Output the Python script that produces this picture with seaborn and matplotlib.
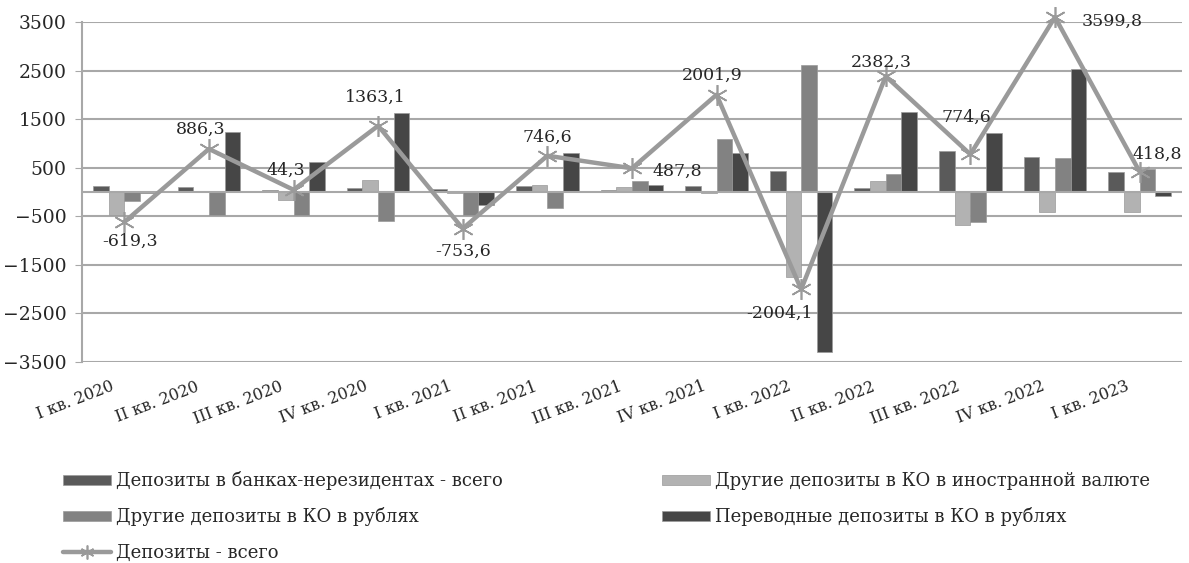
import numpy as np
import pandas as pd
import matplotlib
matplotlib.use("Agg")
import matplotlib.pyplot as plt
import seaborn as sns
from matplotlib.lines import Line2D
import matplotlib.transforms as mtransforms

quarters = ["I кв. 2020", "II кв. 2020", "III кв. 2020", "IV кв. 2020",
            "I кв. 2021", "II кв. 2021", "III кв. 2021", "IV кв. 2021",
            "I кв. 2022", "II кв. 2022", "III кв. 2022", "IV кв. 2022",
            "I кв. 2023"]

nonres = [120, 100, 50, 90, 70, 125, 50, 120, 430, 90, 840, 730, 410]
foreign = [-475, 0, -170, 240, -30, 140, 105, -30, -1750, 230, -680, -405, -405]
rub_other = [-190, -475, -475, -600, -475, -325, 230, 1090, 2620, 365, -610, 700, 480]
rub_transfer = [-20, 1230, 620, 1620, -270, 800, 150, 800, -3300, 1640, 1210, 2540, -75]
total = [-619.3, 886.3, 44.3, 1363.1, -753.6, 746.6, 487.8, 2001.9,
         -2004.1, 2382.3, 774.6, 3599.8, 418.8]

series = ["Депозиты в банках-нерезидентах - всего",
          "Другие депозиты в КО в иностранной валюте",
          "Другие депозиты в КО в рублях",
          "Переводные депозиты в КО в рублях"]
line_name = "Депозиты - всего"
colors = ["#5a5a5a", "#b2b2b2", "#828282", "#464646"]
line_color = "#9a9a9a"

df = pd.DataFrame({
    "quarter": quarters * 4,
    "series": np.repeat(series, len(quarters)),
    "value": nonres + foreign + rub_other + rub_transfer,
})

sns.set_style("white")
plt.rcParams["font.family"] = ["DejaVu Serif"]

fig = plt.figure(figsize=(11.89, 5.63), dpi=100)
ax = fig.add_axes([0.069, 0.357, 0.925, 0.604])

sns.barplot(data=df, x="quarter", y="value", hue="series", hue_order=series,
            palette=colors, width=0.74, saturation=1, ax=ax, legend=False,
            edgecolor="#9a9a9a", linewidth=0.5)

xs = np.arange(len(quarters))
ax.plot(xs, total, color=line_color, lw=3.2, marker=(6, 2, 0), ms=15,
        mew=1.2, mec=line_color, zorder=5, clip_on=False)

# label offsets in pixels (dx right, dy up)
offsets = [(6, -19), (-8, 20), (-8, 20), (-3, 28), (0, -23), (0, 18),
           (45, -3), (-4, 19), (-22, -24), (-4, 14), (-4, 37), (57, -4),
           (18, 17)]
for x, y, (dx, dy) in zip(xs, total, offsets):
    ax.annotate(f"{y:.1f}".replace(".", ","), (x, y),
                xytext=(dx * 0.72, dy * 0.72),
                textcoords="offset points", ha="center", va="center",
                fontsize=12.5, zorder=6, annotation_clip=False)

ax.set_ylim(-3500, 3500)
ax.set_yticks(np.arange(-3500, 3501, 1000))
ax.set_xlim(-0.5, len(quarters) - 0.5)
ax.yaxis.grid(True, color="#a8a8a8", lw=1.5)
ax.axhline(0, color="#a8a8a8", lw=1.5, zorder=1)
ax.set_axisbelow(True)
for s in ["top", "right", "bottom"]:
    ax.spines[s].set_visible(False)
ax.spines["left"].set_color("#a8a8a8")
ax.spines["left"].set_linewidth(1.5)
ax.tick_params(axis="y", left=True, length=5, color="#a8a8a8",
               labelsize=13.5, pad=6)
ax.tick_params(axis="x", bottom=False, labelsize=11.5, pad=8)
ax.set_xlabel("")
ax.set_ylabel("")
shift = mtransforms.ScaledTranslation(-14 / 100, 0, fig.dpi_scale_trans)
for lab in ax.get_xticklabels():
    lab.set_rotation(21)
    lab.set_ha("right")
    lab.set_rotation_mode("anchor")
    lab.set_transform(lab.get_transform() + shift)

handles = [plt.Rectangle((0, 0), 1, 1, facecolor=c, edgecolor="#9a9a9a",
                         linewidth=0.5) for c in colors]
line_handle = Line2D([], [], color=line_color, lw=3.2, marker=(6, 2, 0),
                     ms=10, mew=1.2)
order_h = [handles[0], handles[2], line_handle, handles[1], handles[3]]
order_l = [series[0], series[2], line_name, series[1], series[3]]
fig.legend(order_h, order_l, loc="upper left",
           bbox_to_anchor=(0.047, 0.176), ncol=2, frameon=False,
           fontsize=13, handlelength=2.65, handleheight=0.45,
           handletextpad=0.3, labelspacing=0.95, columnspacing=8.8,
           borderaxespad=0)

fig.savefig("out.png", dpi=100)
